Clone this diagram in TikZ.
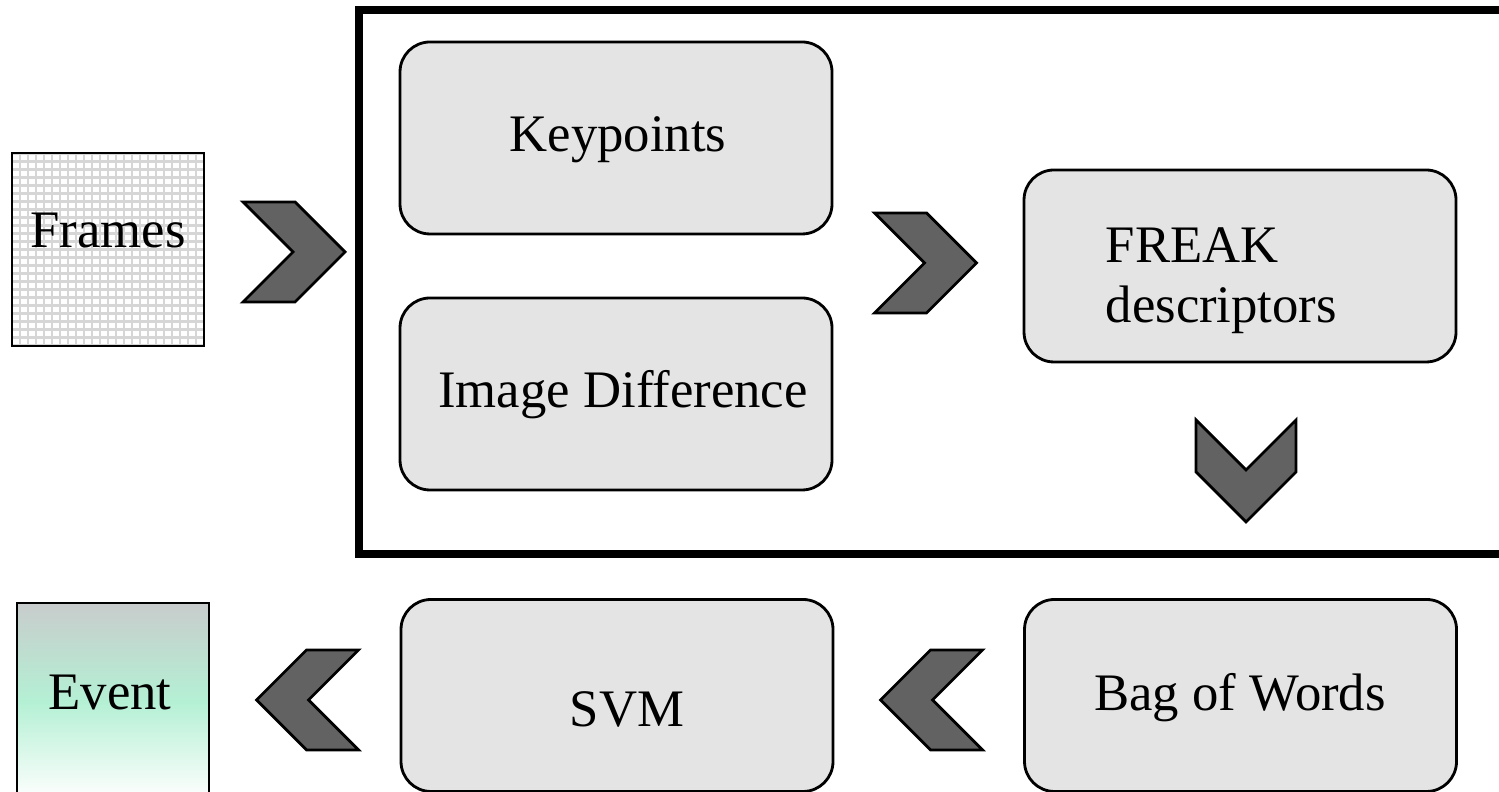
\documentclass[tikz,border=0pt]{standalone}
\usepackage{fontspec}
\setmainfont{Liberation Serif}
\usetikzlibrary{positioning,calc,shapes}
\definecolor{stagegray}{RGB}{228,228,228}
\definecolor{chevrongray}{RGB}{98,98,98}
\definecolor{eventtop}{RGB}{200,204,204}
\definecolor{eventmint}{RGB}{180,240,212}
\definecolor{gridgray}{RGB}{214,214,214}

\begin{document}
\begin{tikzpicture}[
    stage/.style={rectangle, rounded corners=0.3cm, draw=black, line width=0.8pt, fill=stagegray, minimum width=4.32cm, minimum height=1.92cm},
    frame/.style={rectangle, draw=black, line width=0.8pt, minimum width=1.92cm, minimum height=1.93cm},
    lbl/.style={font=\fontsize{15}{17}\selectfont, inner sep=0pt},
    chevron/.pic={
        \filldraw[fill=chevrongray, draw=black, line width=0.8pt, line join=miter]
            (-0.51,0.5) -- (0.01,0.5) -- (0.51,0) -- (0.01,-0.5) -- (-0.51,-0.5) -- (-0.01,0) -- cycle;
    }
]

% page size, everything past the edge is cut off
\useasboundingbox (0,0) rectangle (14.99,7.92);
\clip (0,0) rectangle (14.99,7.92);
\fill[white] (0,0) rectangle (14.99,7.92);

% Input frames (gridded tile)
\node[frame, fill=white, path picture={
    \draw[gridgray, line width=0.7pt] (path picture bounding box.south west) grid[step=0.08cm] (path picture bounding box.north east);
}] (frames) at (1.08, 5.425) {};
\node[lbl, anchor=base] (framestext) at (1.08, 5.44) {Frames};

% Feature extraction block
\node[draw=black, line width=0.08cm, minimum width=11.71cm, minimum height=5.44cm, inner sep=0pt] (detect) at (9.445, 5.10) {};

\node[stage] (keypts) at (6.16, 6.54) {};
\node[lbl, anchor=base] (keyptstext) at (6.18, 6.40) {Keypoints};

\node[stage] (imgdiff) at (6.16, 3.98) {};
\node[lbl, anchor=base] (imgdifftext) at (6.23, 3.84) {Image Difference};

\node[stage] (freak) at (12.40, 5.26) {};
\node[lbl, align=left, anchor=north west] (freaktext) at (11.05, 5.65) {FREAK\\descriptors};

% Classification row
\node[stage] (bow) at (12.405, 0.965) {};
\node[lbl, anchor=base] (bowtext) at (12.40, 0.81) {Bag of Words};

\node[stage] (svm) at (6.17, 0.965) {};
\node[lbl, anchor=base] (svmtext) at (6.27, 0.65) {SVM};

% Output event (shaded tile, middle color has to come last)
\node[frame, minimum height=1.97cm, top color=eventtop, bottom color=white, middle color=eventmint] (event) at (1.13, 0.905) {};
\node[lbl, anchor=base] (eventtext) at (1.10, 0.82) {Event};

% Flow chevrons
\pic at (2.94, 5.40) {chevron};
\pic at (9.255, 5.29) {chevron};
\pic[rotate=-90] at (12.46, 3.21) {chevron};
\pic[rotate=180] at (9.315, 0.92) {chevron};
\pic[rotate=180] at (3.075, 0.92) {chevron};

\end{tikzpicture}
\end{document}
